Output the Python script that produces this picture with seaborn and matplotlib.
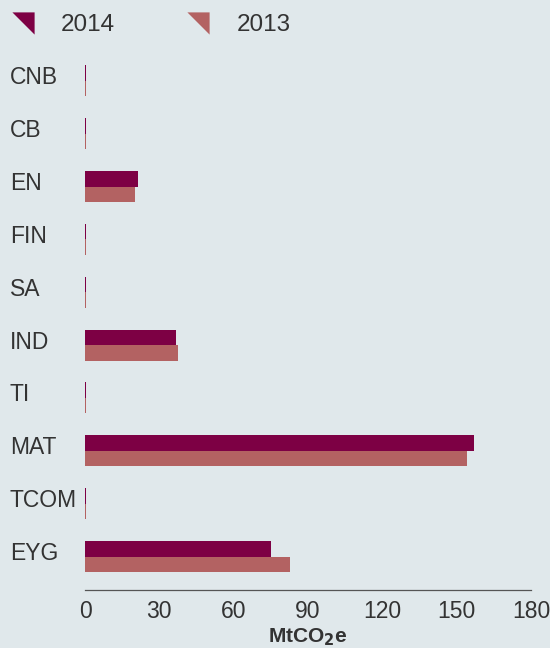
import pandas as pd
import matplotlib.pyplot as plt
import matplotlib.transforms as mtransforms
import seaborn as sns
from matplotlib.lines import Line2D
from matplotlib.path import Path

# 데이터
sectors = ["CNB", "CB", "EN", "FIN", "SA", "IND", "TI", "MAT", "TCOM", "EYG"]
years = ["2014", "2013"]
emissions_2014 = [0.4, 0.4, 21.4, 0.4, 0.4, 36.7, 0.4, 157.0, 0.4, 75.1]
emissions_2013 = [0.4, 0.4, 20.2, 0.4, 0.4, 37.5, 0.4, 154.2, 0.4, 82.7]
x_ticks = [0, 30, 60, 90, 120, 150, 180]

bg = "#E0E8EB"
palette = {"2014": "#7D0044", "2013": "#B36262"}
text_color = "#333333"

df = pd.DataFrame({
    "sector": sectors * 2,
    "year": ["2014"] * len(sectors) + ["2013"] * len(sectors),
    "value": emissions_2014 + emissions_2013,
})

sns.set_style("white")
plt.rcParams["font.family"] = ["Liberation Sans", "DejaVu Sans"]

fig = plt.figure(figsize=(5.5, 6.48), dpi=100, facecolor=bg)
ax = fig.add_axes([85 / 550, 0.0895, 446 / 550, 0.8265])
ax.set_facecolor(bg)

sns.barplot(data=df, y="sector", x="value", hue="year", hue_order=years,
            order=sectors, palette=palette, width=0.587, gap=0,
            saturation=1, orient="h", ax=ax, legend=False, linewidth=0)

ax.set_xlim(0, 180)
ax.set_ylim(9.633, -0.5)
ax.set_xticks(x_ticks)
ax.set_xticklabels([str(t) for t in x_ticks], fontsize=16.5, color=text_color)
ax.set_ylabel("")
ax.set_xlabel("MtCO$_\\mathbf{2}$e", fontsize=15, fontweight="bold",
              color=text_color, labelpad=2.5)

for side in ["top", "right", "left"]:
    ax.spines[side].set_visible(False)
ax.spines["bottom"].set_color("#555555")
ax.spines["bottom"].set_linewidth(0.9)
ax.tick_params(axis="x", direction="out", length=5, width=0.9,
               color="#555555", pad=2)
ax.tick_params(axis="y", length=0, pad=54)
shift_up = mtransforms.ScaledTranslation(0, 4 / 72, fig.dpi_scale_trans)
for lbl in ax.get_yticklabels():
    lbl.set_horizontalalignment("left")
    lbl.set_fontsize(16.5)
    lbl.set_color(text_color)
    lbl.set_transform(lbl.get_transform() + shift_up)

# 범례: 직각삼각형 마커
tri = Path([(-1, 1), (1, 1), (1, -1), (-1, 1)])
handles = [Line2D([], [], marker=tri, linestyle="none", markersize=16,
                  markerfacecolor=palette[y], markeredgewidth=0) for y in years]
leg = fig.legend(handles, years, loc="upper left", ncol=2,
                 bbox_to_anchor=(11 / 550, 1 - 14 / 648), frameon=False,
                 fontsize=17.5, handlelength=0.95, handletextpad=1.11,
                 columnspacing=2.94, borderpad=0, borderaxespad=0)
for t in leg.get_texts():
    t.set_color(text_color)

fig.savefig("out.png", dpi=100, facecolor=bg)
